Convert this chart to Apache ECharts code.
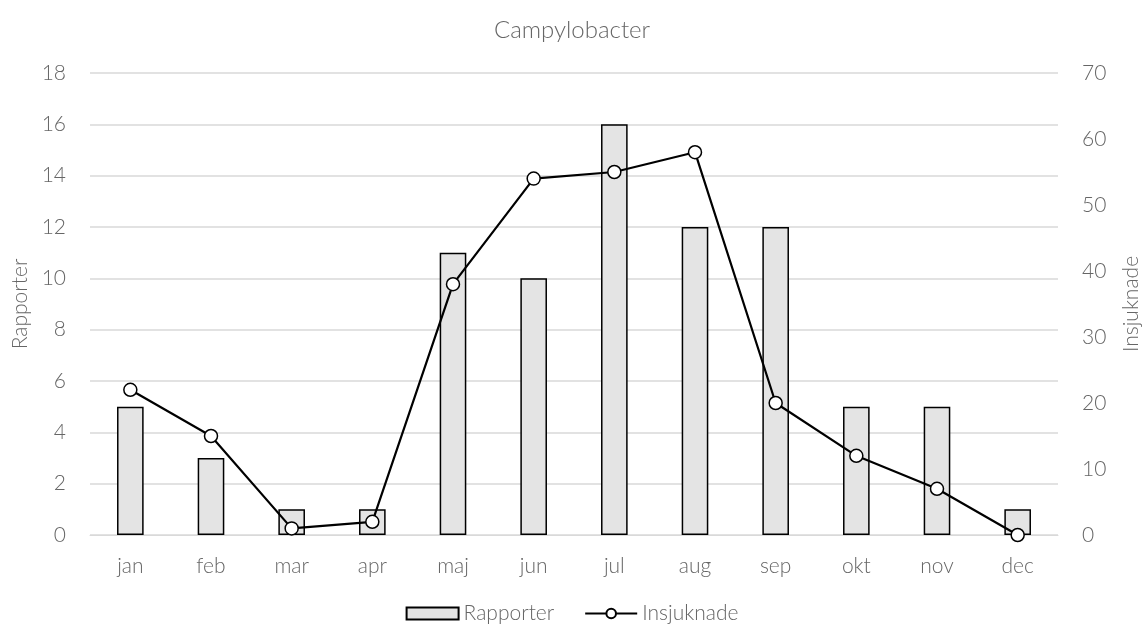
<!DOCTYPE html>
<html><head><meta charset="utf-8">
<script src="https://cdn.jsdelivr.net/npm/echarts@6/dist/echarts.min.js"></script>
<style>html,body{margin:0;padding:0;background:#fff}#c{width:1144px;height:630px}</style>
</head><body><div id="c"></div>
<script>
const categories = ['jan','feb','mar','apr','maj','jun','jul','aug','sep','okt','nov','dec'];
const rapporter = [5,3,1,1,11,10,16,12,12,5,5,1];
const insjuknade = [22,15,1,2,38,54,55,58,20,12,7,0];
const leftTicks = {min:0,max:18,interval:2};
const rightTicks = {min:0,max:70,interval:10};

const font = 'Lato, "Open Sans", sans-serif';
const txt = '#666666';
const fs = 21;
const chart = echarts.init(document.getElementById('c'));
chart.setOption({
  animation:false,
  textStyle:{fontFamily:font},
  title:{text:'Campylobacter',left:'center',top:13,textStyle:{fontFamily:font,fontSize:24,fontWeight:300,color:txt}},
  grid:{left:90,right:86,top:73,bottom:95,containLabel:false,outerBoundsMode:'none'},
  legend:{bottom:1,itemGap:30,textStyle:{fontFamily:font,fontSize:fs,fontWeight:300,color:txt},itemWidth:52,itemHeight:12,
    data:[{name:'Rapporter',icon:'rect'},{name:'Insjuknade'}]},
  xAxis:{type:'category',data:categories,axisTick:{show:false},
    axisLine:{show:true,lineStyle:{color:'#d9d9d9'}},
    axisLabel:{fontFamily:font,fontSize:fs,fontWeight:300,color:txt,margin:21}},
  yAxis:[
    {type:'value',min:leftTicks.min,max:leftTicks.max,interval:leftTicks.interval,name:'Rapporter',nameLocation:'middle',nameGap:59,
     nameTextStyle:{fontFamily:font,fontSize:fs,fontWeight:300,color:txt},
     axisLabel:{fontFamily:font,fontSize:fs,fontWeight:300,color:txt,margin:24},
     splitLine:{lineStyle:{color:'#d9d9d9',width:1.5}},axisLine:{show:false},axisTick:{show:false}},
    {type:'value',min:rightTicks.min,max:rightTicks.max,interval:rightTicks.interval,name:'Insjuknade',nameLocation:'middle',nameGap:63,nameRotate:90,
     nameTextStyle:{fontFamily:font,fontSize:fs,fontWeight:300,color:txt},
     axisLabel:{fontFamily:font,fontSize:fs,fontWeight:300,color:txt,margin:24},
     splitLine:{show:false},axisLine:{show:false},axisTick:{show:false}}
  ],
  series:[
    {name:'Rapporter',type:'bar',data:rapporter,yAxisIndex:0,barWidth:'33%',
     itemStyle:{color:'#e4e4e4',borderColor:'#000',borderWidth:1.5}},
    {name:'Insjuknade',type:'line',data:insjuknade,yAxisIndex:1,symbol:'circle',symbolSize:13,
     lineStyle:{color:'#000',width:2.2},itemStyle:{color:'#fff',borderColor:'#000',borderWidth:1.5}}
  ]
});
</script></body></html>
